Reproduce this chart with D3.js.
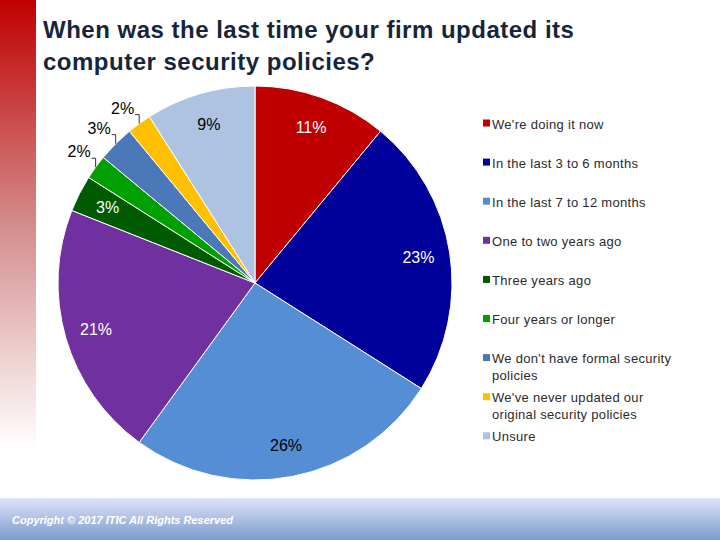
<!DOCTYPE html>
<html>
<head>
<meta charset="utf-8">
<script src="https://cdn.jsdelivr.net/npm/d3@7"></script>
<style>
  body { margin: 0; background: #fff; }
  svg { display: block; }
</style>
</head>
<body>
<svg id="chart"></svg>
<script>
const svgWidth = 720
const svgHeight = 540

const titleLines = ['When was the last time your firm updated its', 'computer security policies?']
const categories = [
    'We\'re doing it now',
    'In the last 3 to 6 months',
    'In the last 7 to 12 months',
    'One to two years ago',
    'Three years ago',
    'Four years or longer',
    'We don\'t have formal security policies',
    'We\'ve never updated our original security policies',
    'Unsure'
]
const legendLines = [
    ['We\'re doing it now'],
    ['In the last 3 to 6 months'],
    ['In the last 7 to 12 months'],
    ['One to two years ago'],
    ['Three years ago'],
    ['Four years or longer'],
    ['We don\'t have formal security', 'policies'],
    ['We\'ve never updated our', 'original security policies'],
    ['Unsure']
]
const values = [11, 23, 26, 21, 3, 2, 3, 2, 9]
const colours = ['#c00000', '#00009a', '#558ed5', '#7030a0', '#005a00', '#00a000', '#4a78b8', '#ffc000', '#adc3e1']
const labelColours = ['#fff', '#fff', '#000', '#fff', '#fff', '#000', '#000', '#000', '#000']
const outsideLabel = [false, false, false, false, false, true, true, true, false]
const copyright = 'Copyright © 2017 ITIC All Rights Reserved'

const svg = d3.select('#chart')
    .attr('width', svgWidth)
    .attr('height', svgHeight)

const defs = svg.append('defs')
const sideGrad = defs.append('linearGradient')
    .attr('id', 'side').attr('x1', 0).attr('y1', 0).attr('x2', 0).attr('y2', 1)
sideGrad.append('stop').attr('offset', '0%').attr('stop-color', '#c00000')
sideGrad.append('stop').attr('offset', '45%').attr('stop-color', '#d48c8c')
sideGrad.append('stop').attr('offset', '90%').attr('stop-color', '#ffffff')
const footGrad = defs.append('linearGradient')
    .attr('id', 'foot').attr('x1', 0).attr('y1', 0).attr('x2', 0).attr('y2', 1)
footGrad.append('stop').attr('offset', '0%').attr('stop-color', '#dfe4f8')
footGrad.append('stop').attr('offset', '100%').attr('stop-color', '#7b9bcd')

// background decorations
svg.append('rect').attr('x', 0).attr('y', 0).attr('width', 36).attr('height', 498).attr('fill', 'url(#side)')
svg.append('rect').attr('x', 0).attr('y', 498).attr('width', svgWidth).attr('height', 42).attr('fill', 'url(#foot)')
svg.append('text')
    .attr('x', 12).attr('y', 524)
    .attr('font-family', '"Liberation Sans Narrow", "Arial Narrow", Arial, sans-serif')
    .attr('font-size', 11).attr('font-weight', 'bold').attr('font-style', 'italic')
    .attr('fill', '#fff')
    .text(copyright)

// title
svg.append('g')
    .selectAll('text')
    .data(titleLines)
    .join('text')
    .attr('x', 43)
    .attr('y', (d, i) => 38 + i * 32)
    .attr('font-family', '"Liberation Sans", Arial, sans-serif')
    .attr('font-size', 24)
    .attr('font-weight', 'bold')
    .attr('letter-spacing', 0.5)
    .attr('fill', '#17253a')
    .text(d => d)

// pie
const cx = 255, cy = 283, radius = 197
const pie = d3.pie().sort(null).value(d => d.value)
const arcs = pie(values.map((v, i) => ({ value: v, i: i })))
const arc = d3.arc().innerRadius(0).outerRadius(radius)
const labelArc = d3.arc().innerRadius(radius * 0.84).outerRadius(radius * 0.84)

const g = svg.append('g').attr('transform', `translate(${cx},${cy})`)
g.selectAll('path')
    .data(arcs)
    .join('path')
    .attr('d', arc)
    .attr('fill', d => colours[d.data.i])
    .attr('stroke', '#fff')
    .attr('stroke-width', 1)

const polar = (a, r) => [Math.sin(a) * r, -Math.cos(a) * r]

g.selectAll('text.inside')
    .data(arcs.filter(d => !outsideLabel[d.data.i]))
    .join('text')
    .attr('class', 'inside')
    .attr('transform', d => `translate(${labelArc.centroid(d)})`)
    .attr('text-anchor', 'middle')
    .attr('dy', '0.35em')
    .attr('font-family', '"Liberation Sans", Arial, sans-serif')
    .attr('font-size', 16)
    .attr('fill', d => labelColours[d.data.i])
    .text(d => d.data.value + '%')

// outside labels with small bracket leaders
const outs = arcs.filter(d => outsideLabel[d.data.i])
const leader = d => {
    const a = (d.startAngle + d.endAngle) / 2
    const p0 = polar(a, radius)
    const p1 = [p0[0], p0[1] - 9]
    const p2 = [p1[0] - 4, p1[1]]
    return [p0, p1, p2]
}
g.selectAll('polyline')
    .data(outs)
    .join('polyline')
    .attr('points', d => leader(d).map(p => p.join(',')).join(' '))
    .attr('fill', 'none')
    .attr('stroke', '#000')
    .attr('stroke-width', 0.8)
g.selectAll('text.outside')
    .data(outs)
    .join('text')
    .attr('class', 'outside')
    .attr('transform', d => {
        const p = leader(d)[2]
        return `translate(${p[0] - 1},${p[1] - 1})`
    })
    .attr('text-anchor', 'end')
    .attr('font-family', '"Liberation Sans", Arial, sans-serif')
    .attr('font-size', 16)
    .attr('fill', '#000')
    .text(d => d.data.value + '%')

// legend
const legend = svg.append('g')
    .selectAll('g')
    .data(categories)
    .join('g')
    .attr('transform', (d, i) => `translate(483, ${124 + i * 39.1})`)
legend.append('rect')
    .attr('x', 0).attr('y', -4.5)
    .attr('width', 7).attr('height', 7)
    .attr('fill', (d, i) => colours[i])
legend.append('text')
    .attr('font-family', '"Liberation Sans", Arial, sans-serif')
    .attr('font-size', 13)
    .attr('letter-spacing', 0.3)
    .attr('fill', '#2b2b2b')
    .selectAll('tspan')
    .data((d, i) => legendLines[i])
    .join('tspan')
    .attr('x', 9)
    .attr('y', (d, j) => 4.5 + j * 17)
    .text(d => d)
</script>
</body>
</html>
